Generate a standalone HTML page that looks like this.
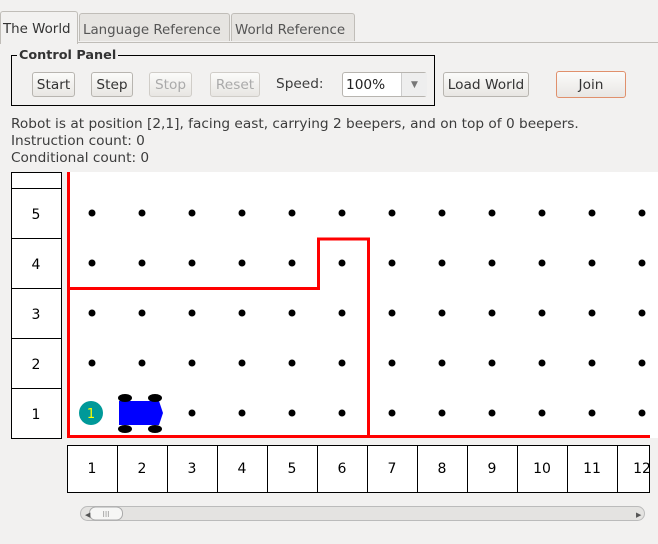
<!DOCTYPE html>
<html><head><style>
body{margin:0;width:658px;height:544px;background:#f2f1f0;font-family:"DejaVu Sans","Liberation Sans",sans-serif;position:relative;overflow:hidden;color:#3c3c3c}
.tab{position:absolute;top:13px;height:28px;border:1px solid #c0bdb8;border-bottom:none;background:#e6e4e1;font-size:13.4px;line-height:33px;padding:0 3px;box-sizing:border-box;color:#555;border-radius:3px 3px 0 0;white-space:nowrap;overflow:hidden}
.btn{position:absolute;top:72px;height:25px;border:1px solid #b8b5b0;border-radius:3px;background:linear-gradient(#fbfbfa,#e8e6e3);font-size:13.7px;line-height:25px;text-align:center;box-sizing:border-box;color:#333;white-space:nowrap}
.dis{color:#aaa;border-color:#d0cdc8}
.t{position:absolute;font-size:13.7px;left:11px;white-space:nowrap}
</style></head><body>
<div style="position:absolute;left:0;top:42px;width:658px;height:1px;background:#c0bdb8"></div>
<div class="tab" style="left:0;width:78px;background:#f2f1f0;top:11px;height:33px;color:#333;padding:0 2px;line-height:36px">The World</div>
<div class="tab" style="left:79px;width:151px">Language Reference</div>
<div class="tab" style="left:231px;width:124px">World Reference</div>
<div style="position:absolute;left:11px;top:55px;width:424px;height:51px;border:1px solid #000;box-sizing:border-box"></div>
<div style="position:absolute;left:17px;top:48px;font-size:12.8px;font-weight:bold;background:#f2f1f0;padding:0 2px;color:#333;white-space:nowrap">Control Panel</div>
<div class="btn" style="left:32px;width:43px">Start</div>
<div class="btn" style="left:91px;width:42px">Step</div>
<div class="btn dis" style="left:149px;width:43px">Stop</div>
<div class="btn dis" style="left:210px;width:50px">Reset</div>
<div style="position:absolute;left:276px;top:76px;font-size:13.7px">Speed:</div>
<div style="position:absolute;left:342px;top:72px;width:85px;height:25px;border:1px solid #b8b5b0;border-radius:3px;background:#fff;box-sizing:border-box;font-size:13.7px;line-height:24px;padding-left:3px;color:#222">100%<span style="position:absolute;left:58px;top:0;width:25px;height:23px;border-left:1px solid #ccc;background:#eee;font-size:9px;text-align:center;color:#777">▼</span></div>
<div class="btn" style="left:443px;width:86px">Load World</div>
<div class="btn" style="left:556px;width:70px;border:1.5px solid #e0906c;height:27px;top:71px;line-height:27px">Join</div>
<div class="t" style="top:116px">Robot is at position [2,1], facing east, carrying 2 beepers, and on top of 0 beepers.</div>
<div class="t" style="top:133px">Instruction count: 0</div>
<div class="t" style="top:150px">Conditional count: 0</div>
<svg style="position:absolute;left:0;top:0" width="658" height="544" font-family="DejaVu Sans, sans-serif" font-size="14">
<rect x="67" y="172" width="591" height="266" fill="#fff"/>
<g fill="#fff" stroke="#000" stroke-width="1">
<rect x="11.5" y="172.5" width="50" height="16"/>
<rect x="11.5" y="188.5" width="50" height="50"/>
<rect x="11.5" y="238.5" width="50" height="50"/>
<rect x="11.5" y="288.5" width="50" height="50"/>
<rect x="11.5" y="338.5" width="50" height="50"/>
<rect x="11.5" y="388.5" width="50" height="50"/>
</g>
<g text-anchor="middle" fill="#000">
<text x="36" y="219">5</text><text x="36" y="269">4</text><text x="36" y="319">3</text><text x="36" y="369">2</text><text x="36" y="419">1</text>
</g>
<g fill="#fff" stroke="#000">
<rect x="67.5" y="445.5" width="50" height="47"/><rect x="117.5" y="445.5" width="50" height="47"/><rect x="167.5" y="445.5" width="50" height="47"/><rect x="217.5" y="445.5" width="50" height="47"/><rect x="267.5" y="445.5" width="50" height="47"/><rect x="317.5" y="445.5" width="50" height="47"/><rect x="367.5" y="445.5" width="50" height="47"/><rect x="417.5" y="445.5" width="50" height="47"/><rect x="467.5" y="445.5" width="50" height="47"/><rect x="517.5" y="445.5" width="50" height="47"/><rect x="567.5" y="445.5" width="50" height="47"/><rect x="617.5" y="445.5" width="32" height="47"/>
</g>
<g text-anchor="middle" fill="#000">
<text x="92" y="473">1</text><text x="142" y="473">2</text><text x="192" y="473">3</text><text x="242" y="473">4</text><text x="292" y="473">5</text><text x="342" y="473">6</text><text x="392" y="473">7</text><text x="442" y="473">8</text><text x="492" y="473">9</text><text x="542" y="473">10</text><text x="592" y="473">11</text><text x="642" y="473">12</text>
</g>
<g fill="#000" id="d">
<circle cx="92" cy="213" r="3.5"/><circle cx="142" cy="213" r="3.5"/><circle cx="192" cy="213" r="3.5"/><circle cx="242" cy="213" r="3.5"/><circle cx="292" cy="213" r="3.5"/><circle cx="342" cy="213" r="3.5"/><circle cx="392" cy="213" r="3.5"/><circle cx="442" cy="213" r="3.5"/><circle cx="492" cy="213" r="3.5"/><circle cx="542" cy="213" r="3.5"/><circle cx="592" cy="213" r="3.5"/><circle cx="642" cy="213" r="3.5"/>
</g>
<use href="#d" y="50"/><use href="#d" y="100"/><use href="#d" y="150"/>
<g fill="#000">
<circle cx="192" cy="413" r="3.5"/><circle cx="242" cy="413" r="3.5"/><circle cx="292" cy="413" r="3.5"/><circle cx="342" cy="413" r="3.5"/><circle cx="392" cy="413" r="3.5"/><circle cx="442" cy="413" r="3.5"/><circle cx="492" cy="413" r="3.5"/><circle cx="542" cy="413" r="3.5"/><circle cx="592" cy="413" r="3.5"/><circle cx="642" cy="413" r="3.5"/>
</g>
<g stroke="#f00" stroke-width="3" fill="none">
<line x1="68.5" y1="172" x2="68.5" y2="438"/>
<line x1="67" y1="436.5" x2="650" y2="436.5"/>
<polyline points="67,288.5 318.5,288.5 318.5,239 368.5,239 368.5,438"/>
</g>
<circle cx="91" cy="413" r="12" fill="#009999"/>
<text x="91" y="418" text-anchor="middle" fill="#ff0" font-size="13">1</text>
<polygon points="119,401 159,401 163,413 159,425 119,425" fill="#00f"/>
<g fill="#000"><ellipse cx="125" cy="398" rx="7" ry="4"/><ellipse cx="155" cy="398" rx="7" ry="4"/><ellipse cx="125" cy="429" rx="7" ry="4"/><ellipse cx="155" cy="429" rx="7" ry="4"/></g>
<rect x="80.5" y="506.5" width="564" height="14" rx="7" fill="#e4e3e1" stroke="#bbb"/>
<rect x="89.5" y="507" width="33" height="13" rx="6" fill="#f6f6f5" stroke="#aaa"/>
<text x="106" y="517" font-size="8" text-anchor="middle" fill="#999">III</text>
<text x="85" y="517" font-size="7" fill="#555">◀</text><text x="636" y="517" font-size="7" fill="#555">▶</text>
</svg>
</body></html>
